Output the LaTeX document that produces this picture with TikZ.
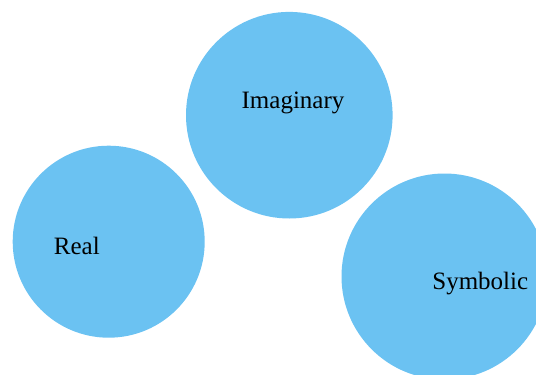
\documentclass[tikz,border=0pt]{standalone}
\usepackage{fontspec}
\setmainfont{Liberation Serif}
\definecolor{ringblue}{RGB}{107,194,242}
\begin{document}
\begin{tikzpicture}[x=1pt,y=-1pt,
  blob/.style={circle,fill=ringblue,draw=none,inner sep=0pt},
  word/.style={anchor=base,inner sep=0pt,text=black,font=\fontsize{25}{30}\selectfont}]
  \useasboundingbox (0,0) rectangle (536,375);
  \clip (0,0) rectangle (536,375);
  % the three registers
  \node[blob,minimum size=206.6pt] (imag) at (289.3,115.2) {};
  \node[blob,minimum size=192pt]   (real) at (108.7,241.7) {};
  \node[blob,minimum size=206pt]   (symb) at (444.5,276.5) {};
  % labels
  \node[word] (imagtxt) at (293,108.3) {Imaginary};
  \node[word] (realtxt) at (76.8,254) {Real};
  \node[word] (symbtxt) at (480.3,289) {Symbolic};
\end{tikzpicture}
\end{document}
